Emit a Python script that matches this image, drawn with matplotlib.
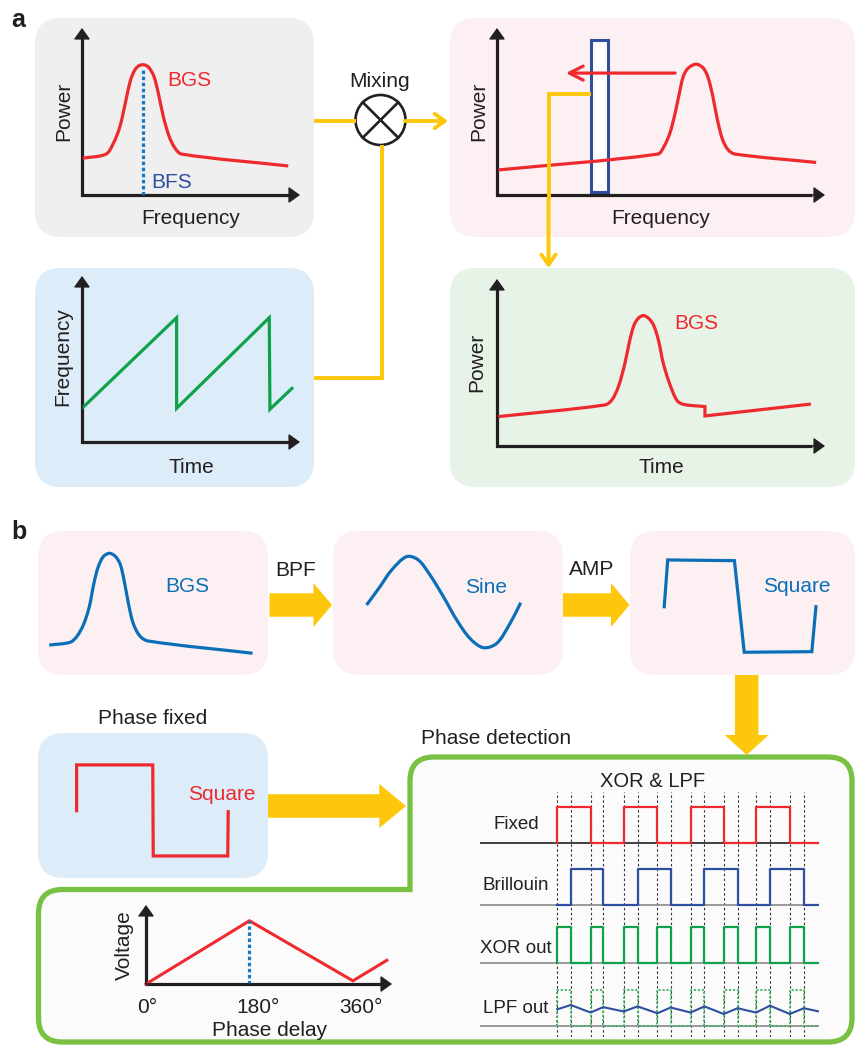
import numpy as np
import matplotlib
matplotlib.use("Agg")
import matplotlib.pyplot as plt
from matplotlib.patches import FancyBboxPatch, Rectangle, Circle, FancyArrow, PathPatch
from matplotlib.path import Path

plt.rcParams['font.family'] = ['Liberation Sans', 'DejaVu Sans']

W, H = 855, 1047

# ---------------- data (arbitrary units) ----------------
# a, top left: Brillouin gain spectrum vs frequency
bgs_f = [0, 11, 14.4, 17.4, 20.2, 22.3, 24.3, 26, 27.8, 29.5, 30.9, 33, 35, 37.3, 40, 42.7, 45.7, 94.6]
bgs_p = [22, 24.5, 31, 41, 57, 69, 75, 77.3, 78, 77.5, 76, 71, 61, 47, 35, 28, 24.5, 17.4]
bfs_f = 28
bfs_p = 76

# a, top right: spectrum after mixing, band-pass window and shift arrow
mix_f = [0.4, 49, 50.9, 52.7, 54.3, 55.6, 56.8, 58.3, 60.7, 62.9, 64.4, 65.8, 67.2, 68.8, 70.5, 72.6, 97.3]
mix_p = [15, 24.5, 29, 37, 49, 61, 71, 76, 78.3, 76, 70, 59, 45, 33, 27, 24.5, 19.5]
window_f = [28.7, 33.8]
window_p = [1.8, 92.8]
shift_f = [54.3, 21.0]
shift_p = 73

# a, bottom left: swept frequency (sawtooth)
sweep_t = [0, 43.4, 43.4, 85.9, 86.2, 96.3]
sweep_f = [20.3, 74.9, 20.3, 74.9, 19.7, 32.3]

# a, bottom right: BGS mapped to time (last three points: step and tail)
bgs_t = [0.4, 32.9, 35, 37, 39, 40.5, 41.8, 43.1, 44.6, 46.2, 47.7, 49.2, 50.7, 52.6, 54.8, 56.7, 63.4, 63.4, 95.2]
bgs_tp = [17.6, 24.6, 27.5, 35.5, 49.5, 63.5, 72.5, 76.5, 78.1, 76.5, 72.5, 63.5, 49.5, 37.5, 27.5, 25, 23.6, 18, 25]

# b, signal chain sketches
b_bgs_x = [4.9, 13.9, 16.8, 19.7, 22.3, 24.3, 26.2, 28.4, 31, 33.5, 35.7, 37.4, 39.3, 41.4, 44.3, 47.9, 93.3]
b_bgs_y = [20.8, 22.7, 26.6, 34.7, 47.4, 63.7, 75.2, 82.2, 84.5, 82.6, 77.1, 66, 49.8, 35.9, 27.1, 23.6, 15.1]
sine_x = [14.6, 20.4, 25.5, 32, 37, 42.2, 48, 53.8, 59.5, 65.3, 71.2, 77, 81.6]
sine_y = [48.6, 61.3, 72.9, 82.2, 80, 69.4, 54.4, 38.2, 25.5, 19, 22, 35.9, 50.2]
square_x = [15.7, 17.3, 47.9, 52.4, 83.4, 85.3]
square_y = [47.4, 79.9, 79.4, 15.8, 16.2, 47.4]
fixed_sq_x = [16.8, 16.8, 49.9, 50.1, 82.5, 82.7]
fixed_sq_y = [46.4, 78, 78, 15.2, 15.2, 45.7]

# b, detector output vs phase delay
phase_deg = [0, 180, 360, 419]
volt = [0, 0.80, 0.04, 0.30]
phase_ticks = ['0°', '180°', '360°']

# b, XOR & LPF timing diagram
fixed_edges = [0, 5, 10, 15.1, 20.1, 25.1, 30, 35.1]
brill_edges = [2, 6.9, 12.1, 17.1, 22.2, 27.2, 32.1, 37.2]
lpf_level = [0.46, 0.58, 0.37, 0.52, 0.40, 0.54, 0.35, 0.51, 0.37, 0.54,
             0.33, 0.49, 0.37, 0.56, 0.33, 0.49, 0.40]
row_names = ['Fixed', 'Brillouin', 'XOR out', 'LPF out']
t_start, t_end = -11.7, 39.5

# ---------------- colours ----------------
DARK = '#231f20'
RED = '#ee2a2e'
YELLOW = '#fdc70c'
BLUE = '#0b6fb8'
NAVY = '#2e4f9f'
DOT_BLUE = '#1a78c2'
GREEN = '#0fa24b'
OUTLINE = '#79c143'

fig = plt.figure(figsize=(W / 100, H / 100), dpi=100)


def overlay():
    a = fig.add_axes([0, 0, 1, 1])
    a.set_xlim(0, W)
    a.set_ylim(H, 0)
    a.axis('off')
    a.patch.set_alpha(0)
    return a


def inset(x0, y0, x1, y1, xlim=(0, 100), ylim=(0, 100)):
    a = fig.add_axes([x0 / W, 1 - y1 / H, (x1 - x0) / W, (y1 - y0) / H])
    a.set_xlim(*xlim)
    a.set_ylim(*ylim)
    a.axis('off')
    a.patch.set_alpha(0)
    return a


def axis_arrows(a):
    a.plot([0, 0, 0.96], [0.96, 0, 0], transform=a.transAxes, color=DARK, lw=2.3,
           solid_capstyle='butt', solid_joinstyle='miter', clip_on=False)
    for xy in [(1, 0), (0, 1)]:
        a.annotate('', xy=xy, xytext=(0, 0), xycoords='axes fraction',
                   arrowprops=dict(arrowstyle='-|>,head_length=0.5,head_width=0.36',
                                   color=DARK, lw=1, mutation_scale=14,
                                   shrinkA=0, shrinkB=0))


def smooth_plot(a, xs, ys, color, lw=2.3):
    # draw the read points as one smooth Bezier path (chord-length Hermite)
    pts = np.column_stack([xs, ys]).astype(float)
    pix = a.transData.transform(pts)
    t = np.r_[0, np.cumsum(np.linalg.norm(np.diff(pix, axis=0), axis=1))]
    n = len(pts)
    m = np.zeros_like(pts)
    for i in range(n):
        lo, hi = max(i - 1, 0), min(i + 1, n - 1)
        m[i] = (pts[hi] - pts[lo]) / (t[hi] - t[lo])
    verts, codes = [pts[0]], [Path.MOVETO]
    for i in range(n - 1):
        h = t[i + 1] - t[i]
        verts += [pts[i] + m[i] * h / 3, pts[i + 1] - m[i + 1] * h / 3, pts[i + 1]]
        codes += [Path.CURVE4] * 3
    a.add_patch(PathPatch(Path(verts, codes), fill=False, ec=color, lw=lw, zorder=2))


def steps(edges, t0, t1):
    xs, ys, lvl = [t0], [0], 0
    for e in edges:
        xs += [e, e]
        ys += [lvl, 1 - lvl]
        lvl = 1 - lvl
    xs.append(t1)
    ys.append(lvl)
    return np.array(xs), np.array(ys)


# ---------------- background: boxes and outline ----------------
bg = overlay()
boxes = [
    ((35, 18, 314, 237), '#eeefee'),
    ((450, 18, 855, 237), '#fcf0f2'),
    ((35, 268, 314, 487), '#dcedf9'),
    ((450, 268, 855, 487), '#e6f3e6'),
    ((38, 531, 268, 675), '#fcf0f2'),
    ((333, 531, 563, 675), '#fcf0f2'),
    ((630, 531, 855, 675), '#fcf0f2'),
    ((38, 733, 268, 878), '#dcedf9'),
]
for (x0, y0, x1, y1), c in boxes:
    bg.add_patch(FancyBboxPatch((x0, y0), x1 - x0, y1 - y0,
                                boxstyle='round,pad=0,rounding_size=26', fc=c, ec='none'))

# green "phase detection" outline
L, R, T, B, SX, SY, r = 38.5, 852, 757, 1042, 410, 889.5, 24
verts = [(L + r, B), (R - r, B), (R, B), (R, B - r), (R, T + r), (R, T), (R - r, T),
         (SX + r, T), (SX, T), (SX, T + r), (SX, SY), (L + r, SY), (L, SY), (L, SY + r),
         (L, B - r), (L, B), (L + r, B), (L + r, B)]
codes = [Path.MOVETO, Path.LINETO, Path.CURVE3, Path.CURVE3, Path.LINETO, Path.CURVE3, Path.CURVE3,
         Path.LINETO, Path.CURVE3, Path.CURVE3, Path.LINETO, Path.LINETO, Path.CURVE3, Path.CURVE3,
         Path.LINETO, Path.CURVE3, Path.CURVE3, Path.CLOSEPOLY]
bg.add_patch(PathPatch(Path(verts, codes), fc='#fbfbfb', ec=OUTLINE, lw=3.8, joinstyle='miter'))

# ---------------- a: four small plots ----------------
a1 = inset(82, 28, 300, 195)
axis_arrows(a1)
smooth_plot(a1, bgs_f, bgs_p, RED)
a1.plot([bfs_f, bfs_f], [0, bfs_p], color=DOT_BLUE, lw=2.3, dashes=(1.1, 0.8), zorder=3)

a2 = inset(497, 28, 825, 195)
axis_arrows(a2)
a2.add_patch(Rectangle((window_f[0], window_p[0]), window_f[1] - window_f[0],
                       window_p[1] - window_p[0], fc='#fdfdff', ec=NAVY, lw=2.2, zorder=1))
smooth_plot(a2, mix_f, mix_p, RED)
a2.annotate('', xy=(shift_f[1], shift_p), xytext=(shift_f[0], shift_p),
            arrowprops=dict(arrowstyle='->,head_length=0.55,head_width=0.28', color=RED,
                            lw=2.3, mutation_scale=18, shrinkA=0, shrinkB=0), zorder=3)

a3 = inset(82, 276, 300, 442)
axis_arrows(a3)
a3.plot(sweep_t, sweep_f, color=GREEN, lw=2.3, solid_joinstyle='miter')

a4 = inset(497, 279, 825, 446)
axis_arrows(a4)
smooth_plot(a4, bgs_t[:17], bgs_tp[:17], RED)
a4.plot(bgs_t[16:], bgs_tp[16:], color=RED, lw=2.3, solid_joinstyle='miter')

# ---------------- b: signal chain ----------------
b1 = inset(38, 531, 268, 675)
smooth_plot(b1, b_bgs_x, b_bgs_y, BLUE)
b2 = inset(333, 531, 563, 675)
smooth_plot(b2, sine_x, sine_y, BLUE)
b3 = inset(630, 531, 848, 675)
b3.plot(square_x, square_y, color=BLUE, lw=2.3, solid_joinstyle='miter')
b4 = inset(38, 733, 268, 878)
b4.plot(fixed_sq_x, fixed_sq_y, color=RED, lw=2.3, solid_joinstyle='miter')

# voltage vs phase delay
v = inset(146, 905, 392, 984, xlim=(0, 428), ylim=(0, 1))
axis_arrows(v)
v.plot(phase_deg, volt, color=RED, lw=2.2, solid_joinstyle='miter', clip_on=False)
v.plot([phase_deg[1], phase_deg[1]], [0, volt[1]], color=DOT_BLUE, lw=2.3, dashes=(1.1, 0.8))

# timing diagram
rows_y = [0, -1.72, -3.33, -5.08]
tm = inset(480, 792, 819, 1037, xlim=(t_start, t_end), ylim=(-5.39, 1.42))
all_edges = np.sort(np.r_[fixed_edges, brill_edges])
for e in all_edges:
    tm.axvline(e, color='#333333', lw=0.8, dashes=(2.2, 2.2), zorder=1)
for i, y0 in enumerate(rows_y):
    tm.plot([t_start, t_end], [y0, y0], color=DARK if i == 0 else '#8a8a8a', lw=1.2, zorder=2)
fx, fy = steps(fixed_edges, 0, t_end)
tm.plot(fx, fy + rows_y[0], color=RED, lw=1.6, zorder=3)
bx, by = steps(brill_edges, 0, t_end)
tm.plot(bx, by + rows_y[1], color=NAVY, lw=1.6, zorder=3)
xx, xy_ = steps(all_edges, 0, t_end)
tm.plot(xx, xy_ + rows_y[2], color=GREEN, lw=1.6, zorder=3)
tm.plot(xx, xy_ + rows_y[3], color='#3cb35e', lw=1.3, dashes=(1.2, 1.0), zorder=3)
tm.plot(np.r_[all_edges, t_end], np.array(lpf_level) + rows_y[3], color=NAVY, lw=1.5, zorder=4)

# ---------------- foreground: connectors, block arrows, text ----------------
fg = overlay()
ylw = dict(color=YELLOW, lw=2.8, solid_joinstyle='miter', solid_capstyle='butt')
fg.plot([314, 356], [121, 121], **ylw)
fg.plot([381.5, 381.5, 314], [145, 378, 378], **ylw)
fg.annotate('', xy=(448, 121), xytext=(405, 121),
            arrowprops=dict(arrowstyle='->,head_length=0.45,head_width=0.32', color=YELLOW,
                            lw=2.8, mutation_scale=16, shrinkA=0, shrinkB=0))
fg.plot([591, 548.5, 548.5], [94, 94, 200], **ylw)
fg.annotate('', xy=(548.5, 268), xytext=(548.5, 199),
            arrowprops=dict(arrowstyle='->,head_length=0.45,head_width=0.32', color=YELLOW,
                            lw=2.8, mutation_scale=16, shrinkA=0, shrinkB=0))

# mixer
cx, cy, cr = 380.5, 120, 25
fg.add_patch(Circle((cx, cy), cr, fc='white', ec=DARK, lw=1.9))
d = cr * np.cos(np.pi / 4)
fg.plot([cx - d, cx + d], [cy - d, cy + d], color=DARK, lw=1.9)
fg.plot([cx - d, cx + d], [cy + d, cy - d], color=DARK, lw=1.9)

# block arrows
for x, y, dx, dy, hl in [(269.5, 605, 62.5, 0, 18.5), (563, 605, 66.5, 0, 18.5),
                         (746.7, 675, 0, 80, 20), (268, 806, 138, 0, 26.7)]:
    fg.add_patch(FancyArrow(x, y, dx, dy, width=23.5, head_width=44, head_length=hl,
                            length_includes_head=True, fc=YELLOW, ec='none'))

txt = dict(fontsize=15, color=DARK, ha='center', va='baseline')
fg.text(18, 26.7, 'a', fontsize=18, fontweight='bold', color=DARK, ha='center', va='baseline')
fg.text(19, 539.3, 'b', fontsize=18, fontweight='bold', color=DARK, ha='center', va='baseline')

fg.text(191, 224, 'Frequency', **txt)
fg.text(661, 224, 'Frequency', **txt)
fg.text(191, 472.7, 'Time', **txt)
fg.text(661, 472.7, 'Time', **txt)
for x, y, s in [(63.5, 111, 'Power'), (478.5, 111, 'Power'), (62.5, 357, 'Frequency'),
                (476.5, 362, 'Power'), (124, 945, 'Voltage')]:
    fg.text(x, y, s, fontsize=15, color=DARK, rotation=90, ha='center', va='center')
fg.text(380, 87.3, 'Mixing', **txt)
fg.text(189, 86, 'BGS', **{**txt, 'color': RED})
fg.text(172, 188.3, 'BFS', **{**txt, 'color': NAVY})
fg.text(696, 329.3, 'BGS', **{**txt, 'color': RED})

fg.text(187.5, 592.3, 'BGS', **{**txt, 'color': BLUE})
fg.text(486.5, 592.7, 'Sine', **{**txt, 'color': BLUE})
fg.text(797, 592.3, 'Square', **{**txt, 'color': BLUE})
fg.text(295.5, 575.7, 'BPF', **txt)
fg.text(591.5, 575.3, 'AMP', **txt)
fg.text(153, 724, 'Phase fixed', **txt)
fg.text(221.7, 800, 'Square', **{**txt, 'color': RED})
fg.text(496.5, 744.3, 'Phase detection', **txt)

for lab, x in zip(phase_ticks, [147, 258.5, 360.5]):
    fg.text(x, 1012.7, lab, **txt)
fg.text(270, 1036, 'Phase delay', **txt)

fg.text(653, 787.3, 'XOR & LPF', **{**txt, 'fontsize': 14.5})
for lab, y in zip(row_names, [829.3, 890, 952.7, 1013.3]):
    fg.text(516, y, lab, **{**txt, 'fontsize': 13.5})

fig.savefig('out.png', dpi=100)
